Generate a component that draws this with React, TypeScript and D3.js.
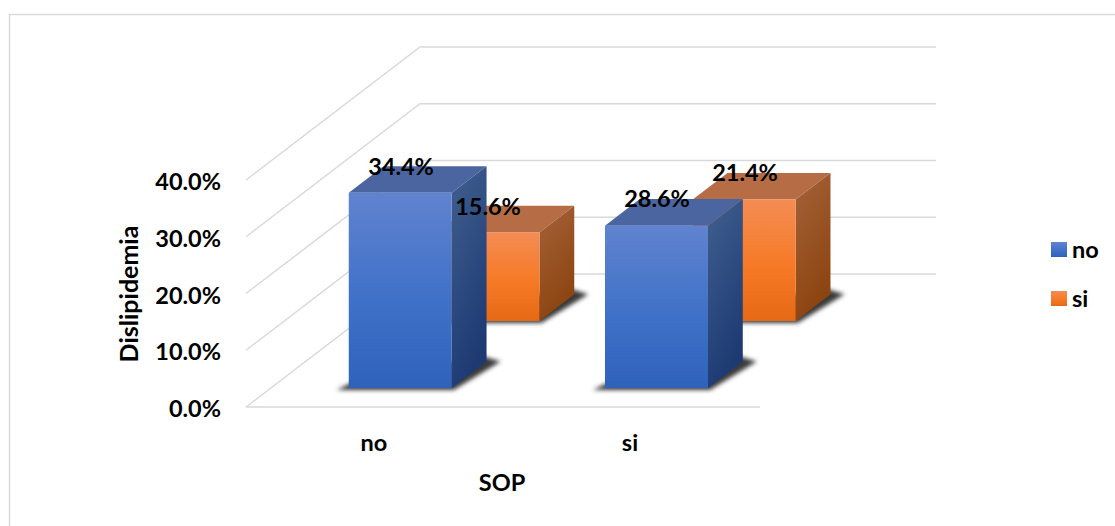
import React from "react";
import * as d3 from "d3";

const categories = ["no", "si"];
const seriesNames = ["no", "si"];
const noValues = [34.4, 15.6];
const siValues = [28.6, 21.4];
const yTicks = [0, 10, 20, 30, 40];

const W = 1115;
const H = 526;
const FONT = "Lato, 'Open Sans', sans-serif";

// Oblique projection: front floor corner, plus the offset of the full chart depth.
const floorY = 407;
const depthDx = 174;
const depthDy = -133;
const y = d3.scaleLinear().domain([0, 40]).range([0, 227]);
const x = d3.scaleLinear().domain([0, 2]).range([246, 760]);
const depth = d3.scaleOrdinal<string, number>().domain(seriesNames).range([0.143, 0.647]);
const barDepth = 0.2;
const barWidth = 103;
const catStart = [0.303, 1.3];

const colors: Record<string, { front: string[]; side: string[]; top: string }> = {
  no: {
    front: ["#6083cf", "#3f71c8", "#2f62bb"],
    side: ["#41608f", "#1d3a73"],
    top: "#4a659f",
  },
  si: {
    front: ["#f48c54", "#f67a26", "#e66a15"],
    side: ["#a5633a", "#8c4410"],
    top: "#b66c44",
  },
};

const pts = (p: [number, number][]) => p.map((d) => d.join(",")).join(" ");

function Bar({ cat, name, value }: { cat: number; name: string; value: number }) {
  const d = depth(name);
  const left = x(catStart[cat]) + d * depthDx;
  const bottom = floorY + d * depthDy;
  const top = bottom - y(value);
  const right = left + barWidth;
  const ox = barDepth * depthDx;
  const oy = barDepth * depthDy;
  const shadow: [number, number][] = [
    [left - 12, bottom + 2],
    [right + 2, bottom + 2],
    [right + ox + 14, bottom + oy + 0],
    [right + ox - 6, bottom + oy - 6],
    [left, bottom - 4],
  ];
  return (
    <g>
      <polygon points={pts(shadow)} fill="#3a3a3a" filter="url(#soft)" />
      <polygon
        points={pts([[left, top], [right, top], [right + ox, top + oy], [left + ox, top + oy]])}
        fill={colors[name].top}
      />
      <polygon
        points={pts([[right, top], [right + ox, top + oy], [right + ox, bottom + oy], [right, bottom]])}
        fill={`url(#side-${name})`}
      />
      <rect x={left} y={top} width={barWidth} height={bottom - top} fill={`url(#front-${name})`} />
    </g>
  );
}

export default function App() {
  const bars = [
    { cat: 0, name: "si", value: noValues[1] },
    { cat: 1, name: "si", value: siValues[1] },
    { cat: 0, name: "no", value: noValues[0] },
    { cat: 1, name: "no", value: siValues[0] },
  ];
  const labelStyle = { fontFamily: FONT, fontWeight: 700, fontSize: 23.5, fill: "#000" };
  return (
    <svg
      width={W}
      height={H}
      viewBox={`0 0 ${W} ${H}`}
      style={{ position: "absolute", left: 0, top: 0, background: "#fff" }}
    >
      <defs>
        <filter id="soft" x="-20%" y="-20%" width="140%" height="140%">
          <feGaussianBlur stdDeviation="2" />
        </filter>
        {seriesNames.map((n) => (
          <React.Fragment key={n}>
            <linearGradient id={`front-${n}`} x1="0" y1="0" x2="0" y2="1">
              <stop offset="0" stopColor={colors[n].front[0]} />
              <stop offset="0.55" stopColor={colors[n].front[1]} />
              <stop offset="1" stopColor={colors[n].front[2]} />
            </linearGradient>
            <linearGradient id={`side-${n}`} x1="0" y1="0" x2="0.35" y2="1">
              <stop offset="0" stopColor={colors[n].side[0]} />
              <stop offset="1" stopColor={colors[n].side[1]} />
            </linearGradient>
          </React.Fragment>
        ))}
      </defs>

      {/* outer frame, open on the right and at the bottom */}
      <path d="M9.5 526V14.5H1115" fill="none" stroke="#d9d9d9" strokeWidth={1.5} />

      {/* gridlines along the side wall and the back wall */}
      {yTicks.map((t) => {
        const h = y(t);
        return (
          <polyline
            key={t}
            points={pts([
              [x(0), floorY - h],
              [x(0) + depthDx, floorY + depthDy - h],
              [936, floorY + depthDy - h],
            ])}
            fill="none"
            stroke="#d9d9d9"
            strokeWidth={1.5}
          />
        );
      })}
      <line x1={x(0)} x2={x(2)} y1={floorY} y2={floorY} stroke="#d9d9d9" strokeWidth={1.5} />

      {bars.map((b) => (
        <Bar key={`${b.cat}-${b.name}`} {...b} />
      ))}

      {/* value labels */}
      <text x={401} y={175} textAnchor="middle" {...labelStyle}>{noValues[0].toFixed(1)}%</text>
      <text x={488} y={215} textAnchor="middle" {...labelStyle}>{noValues[1].toFixed(1)}%</text>
      <text x={657} y={207} textAnchor="middle" {...labelStyle}>{siValues[0].toFixed(1)}%</text>
      <text x={745} y={181} textAnchor="middle" {...labelStyle}>{siValues[1].toFixed(1)}%</text>

      {/* value axis */}
      {yTicks.map((t) => (
        <text key={t} x={221} y={floorY - y(t) + 10} textAnchor="end" {...labelStyle}>
          {t.toFixed(1)}%
        </text>
      ))}
      <text
        transform="translate(138,294) rotate(-90)"
        textAnchor="middle"
        {...labelStyle}
        fontSize={25}
      >
        Dislipidemia
      </text>

      {/* category axis */}
      {categories.map((c, i) => (
        <text key={c} x={[374, 630][i]} y={451} textAnchor="middle" {...labelStyle}>{c}</text>
      ))}
      <text x={502} y={491} textAnchor="middle" {...labelStyle}>SOP</text>

      {/* legend */}
      {seriesNames.map((n, i) => (
        <g key={n}>
          <rect x={1051} y={[242, 291][i]} width={16} height={15} fill={`url(#front-${n})`} />
          <text x={1072} y={[258, 307][i]} {...labelStyle}>{n}</text>
        </g>
      ))}
    </svg>
  );
}
